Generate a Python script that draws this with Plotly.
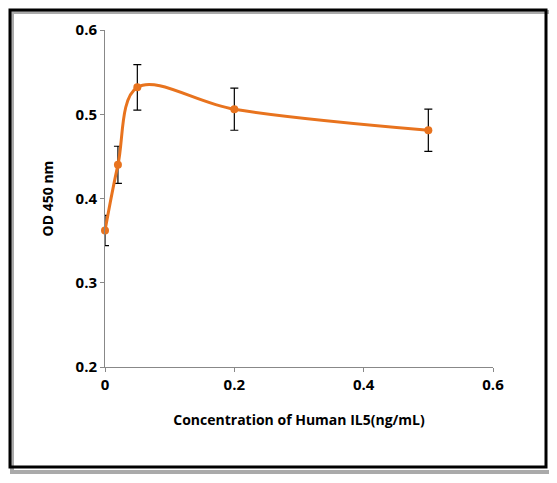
import plotly.graph_objects as go

conc = [0, 0.02, 0.05, 0.2, 0.5]
od = [0.362, 0.440, 0.532, 0.506, 0.481]
err = [0.018, 0.022, 0.027, 0.025, 0.025]
xticks = [0, 0.2, 0.4, 0.6]
yticks = [0.2, 0.3, 0.4, 0.5, 0.6]

orange = "#E8731E"
fig = go.Figure(go.Scatter(
    x=conc, y=od, mode="lines+markers",
    line=dict(color=orange, width=3, shape="spline", smoothing=1.0),
    marker=dict(color=orange, size=8),
    error_y=dict(type="data", array=err, color="black", thickness=1.2, width=4),
    cliponaxis=False,
))

# window-pixel helpers (page body has an 8px margin)
def px2x(p): return (p - 105) / 388
def px2y(p): return (367 - p) / 337

fig.update_layout(
    width=541, height=467, margin=dict(l=97, r=56, t=22, b=108),
    paper_bgcolor="white", plot_bgcolor="white", showlegend=False,
    font=dict(family="Open Sans", size=15, color="black"),
    xaxis=dict(range=[0, 0.6], tickvals=xticks, ticktext=["<b>0</b>", "<b>0.2</b>", "<b>0.4</b>", "<b>0.6</b>"],
               showline=True, linecolor="#888", linewidth=1, showgrid=False, zeroline=False,
               ticks="outside", ticklen=4, tickcolor="#888",
               title=dict(text="<b>Concentration of Human IL5(ng/mL)</b>", standoff=22, font=dict(size=14))),
    yaxis=dict(range=[0.2, 0.6], tickvals=yticks, ticktext=["<b>%.1f</b>" % v for v in yticks],
               showline=True, linecolor="#888", linewidth=1, showgrid=False, zeroline=False,
               ticks="outside", ticklen=4, tickcolor="#888",
               title=dict(text="<b>OD 450 nm</b>", standoff=18, font=dict(size=14))),
    shapes=[
        dict(type="rect", xref="paper", yref="paper", x0=px2x(12), x1=px2x(551), y0=px2y(12), y1=px2y(472),
             line=dict(color="#aaa", width=4), layer="below"),
        dict(type="rect", xref="paper", yref="paper", x0=px2x(10), x1=px2x(546), y0=px2y(10), y1=px2y(467),
             line=dict(color="black", width=3), layer="below"),
    ],
)
fig.write_html("out.html")
